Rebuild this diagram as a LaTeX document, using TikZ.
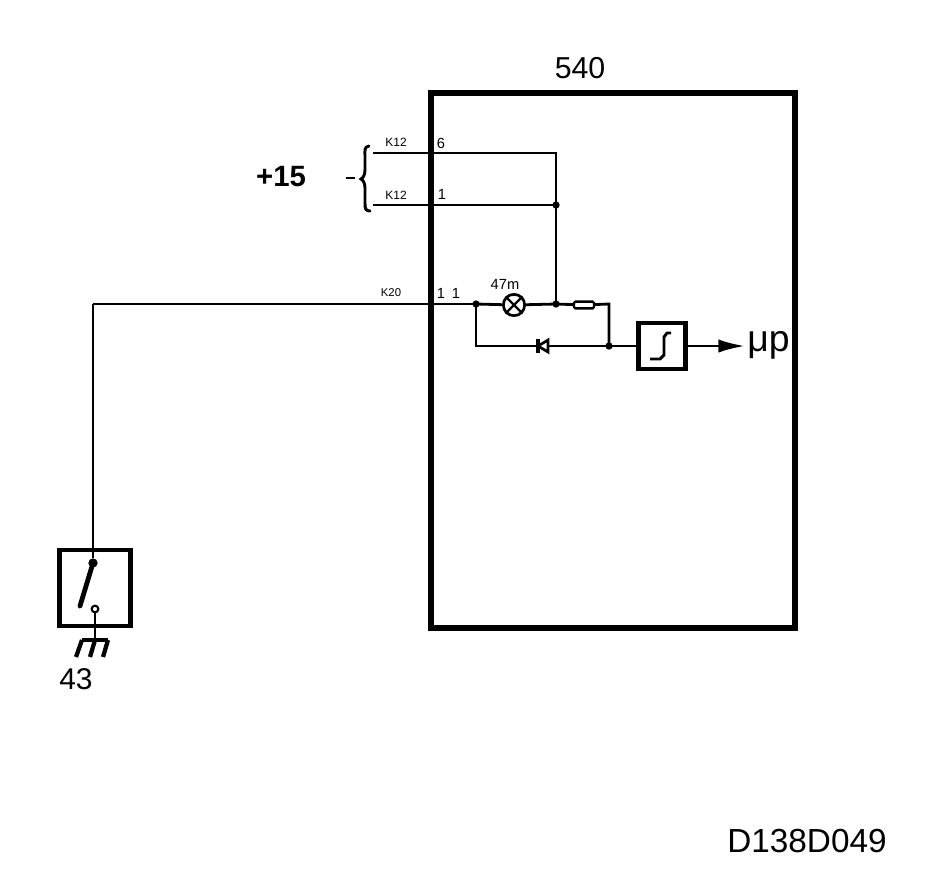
\documentclass[tikz,border=0pt]{standalone}
\usepackage{fontspec}
\setmainfont{Liberation Sans}
\usetikzlibrary{arrows.meta}
\tikzset{
  x=0.75pt,y=-0.75pt,
  wire/.style={line width=2.1pt,black},
  thick box/.style={draw,line width=4.3pt,black},
  mid box/.style={draw,line width=3.4pt,black},
  junction/.style={circle,fill=black,inner sep=0pt,minimum size=5.5pt},
  tiny/.style={font=\fontsize{9}{10}\selectfont,inner sep=0pt},
  small/.style={font=\fontsize{11}{12}\selectfont,inner sep=0pt},
}
\begin{document}
\begin{tikzpicture}
\useasboundingbox (0,0) rectangle (928,872);
\fill[white] (0,0) rectangle (928,872);
% main box
\node[thick box,minimum width=273pt,minimum height=401pt,inner sep=0pt] (ecu) at (613,360.5) {};
\node[font=\fontsize{22.7}{24}\selectfont,inner sep=0pt] (t540) at (580,68) {540};
% named points
\coordinate (k6) at (373,153);
\coordinate (k1) at (373,205);
\coordinate (k20) at (93,304);
\coordinate (c6) at (556,153);
\node[junction] (j1) at (556,205) {};
\node[junction] (j2) at (556,304) {};
\node[junction] (j3) at (476,304) {};
\node[junction] (j4) at (609,346) {};
\coordinate (jr) at (609,304);
\coordinate (jb) at (476,346);
% lamp
\node[circle,draw,line width=2pt,minimum size=16pt,inner sep=0pt] (lamp) at (514,305) {};
\draw[line width=1.8pt] (lamp.north west) -- (lamp.south east) (lamp.north east) -- (lamp.south west);
\node[small] (l47) at (505,284) {47m};
% resistor
\node[draw,line width=1.8pt,minimum width=15pt,minimum height=5pt,inner sep=0pt,rounded corners=1pt] (res) at (584,305) {};
% schmitt
\node[mid box,minimum width=35pt,minimum height=34.5pt,inner sep=0pt] (sch) at (662,346) {};
\draw[line width=2.2pt,line join=round] (650,359) -- (660,359) -- (664,355) -- (664,337) -- (667,333) -- (671,333);
\node[font=\fontsize{28}{30}\selectfont,inner sep=0pt,anchor=base west] (mup) at (747,351) {μp};
\coordinate (aend) at (745,346);
% wires
\draw[wire] (k6) -- (c6) -- (j1.center) -- (j2.center);
\draw[wire] (k1) -- (j1.center);
\draw[wire] (k20) -- (j3.center);
\draw[wire] (j3.center) -- (lamp);
\draw[wire] (lamp) -- (j2.center) -- (res);
\draw[wire] (res) -- (jr) -- (j4.center);
\draw[wire] (j3.center) -- (jb) -- (j4.center) -- (sch);
\draw[wire,-{Latex[length=20pt,width=10pt]}] (sch) -- (aend);
% diode symbol
\draw[line width=2pt,fill=white] (538,346) -- (548,340) -- (548,352) -- cycle;
\draw[line width=2.4pt] (538,339) -- (538,353);
% labels
\node[tiny] (lk1) at (396,142) {K12};
\node[tiny] (lk2) at (396,195) {K12};
\node[font=\fontsize{8.5}{9}\selectfont,inner sep=0pt] (lk3) at (391,293) {K20};
\node[small] (p6) at (441,143) {6};
\node[small] (p1) at (442,194) {1};
\node[small] (p11) at (441,293) {1};
\node[small] (p12) at (456,293) {1};
% brace
\draw[line width=2.2pt,line cap=round] (369,146) .. controls (364,147) and (365,150) .. (365,156) -- (365,170) .. controls (365,175) and (363,178) .. (361,179) .. controls (363,180) and (365,183) .. (365,188) -- (365,203) .. controls (365,208) and (365,211) .. (370,211);
\draw[line width=2.2pt] (346,178) -- (355,178);
\node[font=\bfseries\fontsize{22}{24}\selectfont,inner sep=0pt] (p15) at (281,177) {+15};
% switch
\node[mid box,minimum width=53pt,minimum height=57pt,inner sep=0pt] (sw) at (95,588) {};
\node[junction,minimum size=7pt] (swp) at (93,563) {};
\coordinate (swe) at (80,606);
\node[circle,draw,fill=white,line width=1.6pt,minimum size=5pt,inner sep=0pt] (con) at (95,609) {};
\coordinate (gnd) at (95,640);
\draw[wire] (k20) -- (swp);
\draw[line width=3.6pt,line cap=round] (swp) -- (swe);
\draw[wire] (con) -- (gnd);
\draw[line width=2.6pt] (82,640) -- (108,640);
\draw[line width=3.2pt] (82,640) -- (76,657) (95,640) -- (90,657) (108,640) -- (103,657);
\node[font=\fontsize{22.5}{24}\selectfont,inner sep=0pt] (t43) at (76,679) {43};
\node[font=\fontsize{25}{27}\selectfont,inner sep=0pt] (code) at (807,841) {D138D049};
\end{tikzpicture}
\end{document}
